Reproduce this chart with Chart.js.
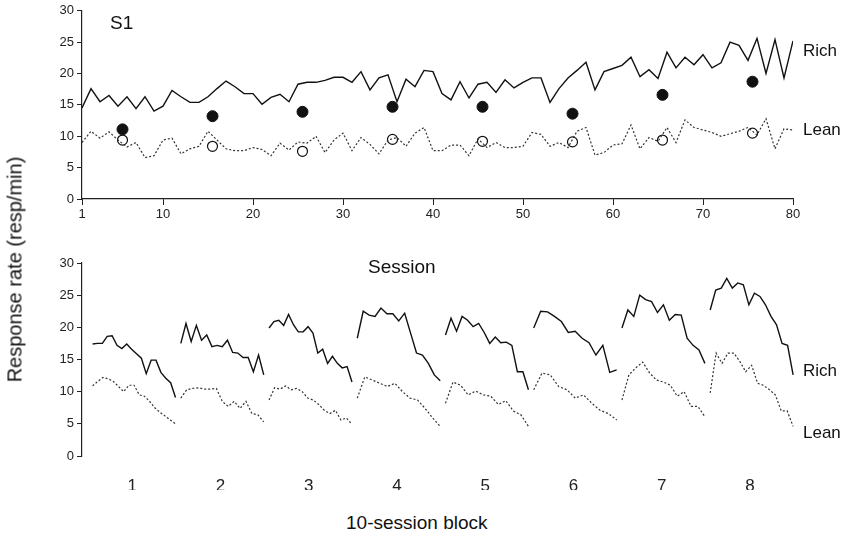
<!DOCTYPE html>
<html><head><meta charset="utf-8">
<script src="https://cdn.jsdelivr.net/npm/chart.js@4/dist/chart.umd.min.js"></script>
<style>
body{margin:0;background:#fff;width:850px;height:536px;position:relative;overflow:hidden;font-family:"Liberation Sans",Arial,sans-serif;color:#111}
canvas{position:absolute;left:0}
.t{position:absolute;font-size:17px;white-space:nowrap}
</style></head><body>
<canvas id="c1" style="top:0" width="850" height="225"></canvas>
<canvas id="c2" style="top:250px" width="850" height="240"></canvas>
<div class="t" style="left:-105px;top:258px;font-size:20px;transform:rotate(-90deg);width:240px;text-align:center">Response rate (resp/min)</div>
<div class="t" style="left:110px;top:12px;font-size:19px">S1</div>
<div class="t" style="left:368px;top:256px;font-size:19px">Session</div>
<div class="t" style="left:803px;top:41px">Rich</div>
<div class="t" style="left:803px;top:120px">Lean</div>
<div class="t" style="left:803px;top:361px">Rich</div>
<div class="t" style="left:803px;top:423px">Lean</div>
<div class="t" style="left:346px;top:512px;font-size:19px">10-session block</div>
<script>
const sessions = Array.from({length:80},(_,i)=>i+1);
const richTop = [14.5,17.6,15.5,16.5,14.8,16.3,14.4,16.3,14.0,14.8,17.3,16.3,15.4,15.4,16.3,17.6,18.8,17.9,16.8,16.8,15.1,16.2,16.7,15.5,18.3,18.6,18.6,18.9,19.4,19.4,18.6,20.3,17.4,19.3,19.8,15.5,19.1,17.9,20.5,20.3,
16.8,15.8,18.7,16.1,18.3,18.6,17.0,19.0,17.7,18.6,19.3,19.3,15.4,17.6,19.3,20.5,21.8,17.4,20.3,20.8,21.3,22.6,19.5,20.6,19.2,23.4,20.9,22.6,21.4,23.0,20.9,21.7,25.0,24.5,22.1,25.6,20.0,25.4,19.3,25.2];
const leanTop = [9.0,10.8,9.7,10.7,9.4,8.3,9.0,6.6,6.9,9.4,9.7,7.2,8.0,8.4,10.8,9.4,8.0,7.7,7.7,8.2,7.9,6.9,8.9,7.8,9.1,8.9,10.0,7.4,9.4,10.5,7.7,9.8,8.7,7.2,9.4,9.8,8.4,10.5,11.4,7.7,
7.7,8.6,8.6,6.9,9.6,8.2,9.0,8.2,8.2,8.4,10.6,10.3,8.4,9.0,8.2,10.8,11.4,7.0,7.4,8.6,8.8,11.8,8.0,9.8,9.2,11.4,9.0,12.6,11.4,11.0,10.6,10.0,10.4,10.8,11.4,10.2,12.8,8.0,11.2,11.0];
const blockMid = [5.5,15.5,25.5,35.5,45.5,55.5,65.5,75.5];
const richMean = [11.1,13.2,13.9,14.7,14.7,13.6,16.6,18.7];
const leanMean = [9.4,8.4,7.6,9.5,9.2,9.1,9.4,10.5];
const blockLabels = ['1','2','3','4','5','6','7','8'];
const richBlocks = [
 [17.4,17.5,17.5,18.6,18.7,17.2,16.7,17.4,16.6,15.9,15.2,12.8,14.9,14.9,13.0,12.1,11.4,9.1],
 [17.5,20.6,17.8,20.3,18.0,18.8,17.0,17.2,17.0,18.0,16.1,16.0,15.3,15.3,13.1,15.7,12.6],
 [19.9,20.9,21.1,20.3,22.0,20.4,19.3,19.3,20.1,19.1,16.0,16.6,14.4,15.5,14.4,13.7,13.9,11.5],
 [18.3,22.5,21.9,21.7,23.0,22.1,22.1,21.0,22.2,19.1,16.0,15.7,14.4,12.6,11.7],
 [18.8,21.4,19.4,21.7,21.1,20.1,20.6,19.2,17.5,18.5,17.6,17.7,17.2,13.1,13.1,10.3],
 [19.9,22.5,22.4,21.7,20.9,19.2,19.4,18.3,17.6,15.7,17.2,13.0,13.4],
 [19.9,22.7,21.7,25.0,24.3,24.0,22.3,23.5,21.1,22.0,21.9,18.3,17.2,16.5,14.4],
 [22.7,25.8,26.1,27.6,26.1,26.9,26.6,23.5,25.3,24.8,23.5,21.7,20.4,17.5,17.2,12.6]];
const leanBlocks = [
 [10.9,11.6,12.2,12.0,11.6,10.8,10.0,11.0,11.0,9.5,9.3,8.5,7.5,6.8,6.2,5.6,5.0],
 [9.0,10.3,10.5,10.6,10.4,10.4,10.5,8.5,7.7,8.5,7.4,8.5,6.6,6.4,5.3],
 [8.7,10.6,10.4,10.9,10.3,10.5,10.0,9.0,8.7,8.0,7.1,6.6,7.1,5.6,5.9,4.9],
 [9.0,12.3,11.8,11.3,10.8,11.3,10.0,9.0,8.7,7.4,5.9,4.6],
 [8.2,11.5,11.0,9.5,10.1,9.5,9.3,8.0,8.6,7.0,6.4,4.6],
 [10.3,12.9,12.6,10.8,10.3,9.0,9.5,8.2,7.1,6.6,5.6],
 [8.7,12.6,13.7,14.6,12.9,11.8,11.5,11.0,9.3,10.0,7.7,7.7,6.1],
 [9.8,16.0,14.4,16.0,16.0,14.7,13.1,14.1,11.3,11.0,10.3,9.5,7.0,7.0,4.6]];

const font = {family:'"Liberation Sans", Arial, sans-serif', size:13};
const col = '#222';
function yAxis(){return {min:0,max:30,afterFit:s=>{s.width=82;},
  ticks:{stepSize:5,font,color:col,padding:3},
  grid:{drawOnChartArea:false,tickLength:5,color:col},border:{color:col,width:1.2}};}

new Chart(document.getElementById('c1'),{type:'line',
 data:{datasets:[
  {data:sessions.map((x,i)=>({x,y:richTop[i]})),borderColor:'#111',borderWidth:1.4,pointRadius:0,tension:0},
  {data:sessions.map((x,i)=>({x,y:leanTop[i]})),borderColor:'#333',borderWidth:1.2,borderDash:[2,2],pointRadius:0,tension:0},
  {data:blockMid.map((x,i)=>({x,y:richMean[i]})),showLine:false,pointRadius:5.5,pointBackgroundColor:'#111',pointBorderColor:'#111'},
  {data:blockMid.map((x,i)=>({x,y:leanMean[i]})),showLine:false,pointRadius:5,pointBackgroundColor:'#fff',pointBorderColor:'#111',pointBorderWidth:1.2}]},
 options:{animation:false,responsive:false,plugins:{legend:{display:false},tooltip:{enabled:false}},
  layout:{padding:{top:8,right:57,left:0,bottom:0}},
  scales:{x:{type:'linear',min:1,max:80,afterBuildTicks:s=>{s.ticks=[1,10,20,30,40,50,60,70,80].map(v=>({value:v}));},
     afterFit:s=>{s.height=26;},ticks:{font,color:col,padding:2,maxRotation:0},
     grid:{drawOnChartArea:false,tickLength:6,color:col},border:{color:col,width:1.2}},
   y:yAxis()}}});

const ds2=[];
richBlocks.forEach((arr,b)=>ds2.push({data:arr.map((y,i)=>({x:b+1-0.45+i*0.94/(arr.length-1),y})),borderColor:'#111',borderWidth:1.4,pointRadius:0,tension:0}));
leanBlocks.forEach((arr,b)=>ds2.push({data:arr.map((y,i)=>({x:b+1-0.45+i*0.94/(arr.length-1),y})),borderColor:'#333',borderWidth:1.2,borderDash:[2,2],pointRadius:0,tension:0}));
new Chart(document.getElementById('c2'),{type:'line',data:{datasets:ds2},
 options:{animation:false,responsive:false,plugins:{legend:{display:false},tooltip:{enabled:false}},
  layout:{padding:{top:13,right:56,left:0,bottom:0}},
  scales:{x:{type:'linear',min:0.43,max:8.5,afterBuildTicks:s=>{s.ticks=blockLabels.map((l,i)=>({value:i+1}));},
     afterFit:s=>{s.height=34;},ticks:{font:{...font,size:17},color:col,padding:12,maxRotation:0,callback:(v)=>blockLabels[v-1]},
     grid:{display:false},border:{display:false}},
   y:yAxis()}}});
</script></body></html>
